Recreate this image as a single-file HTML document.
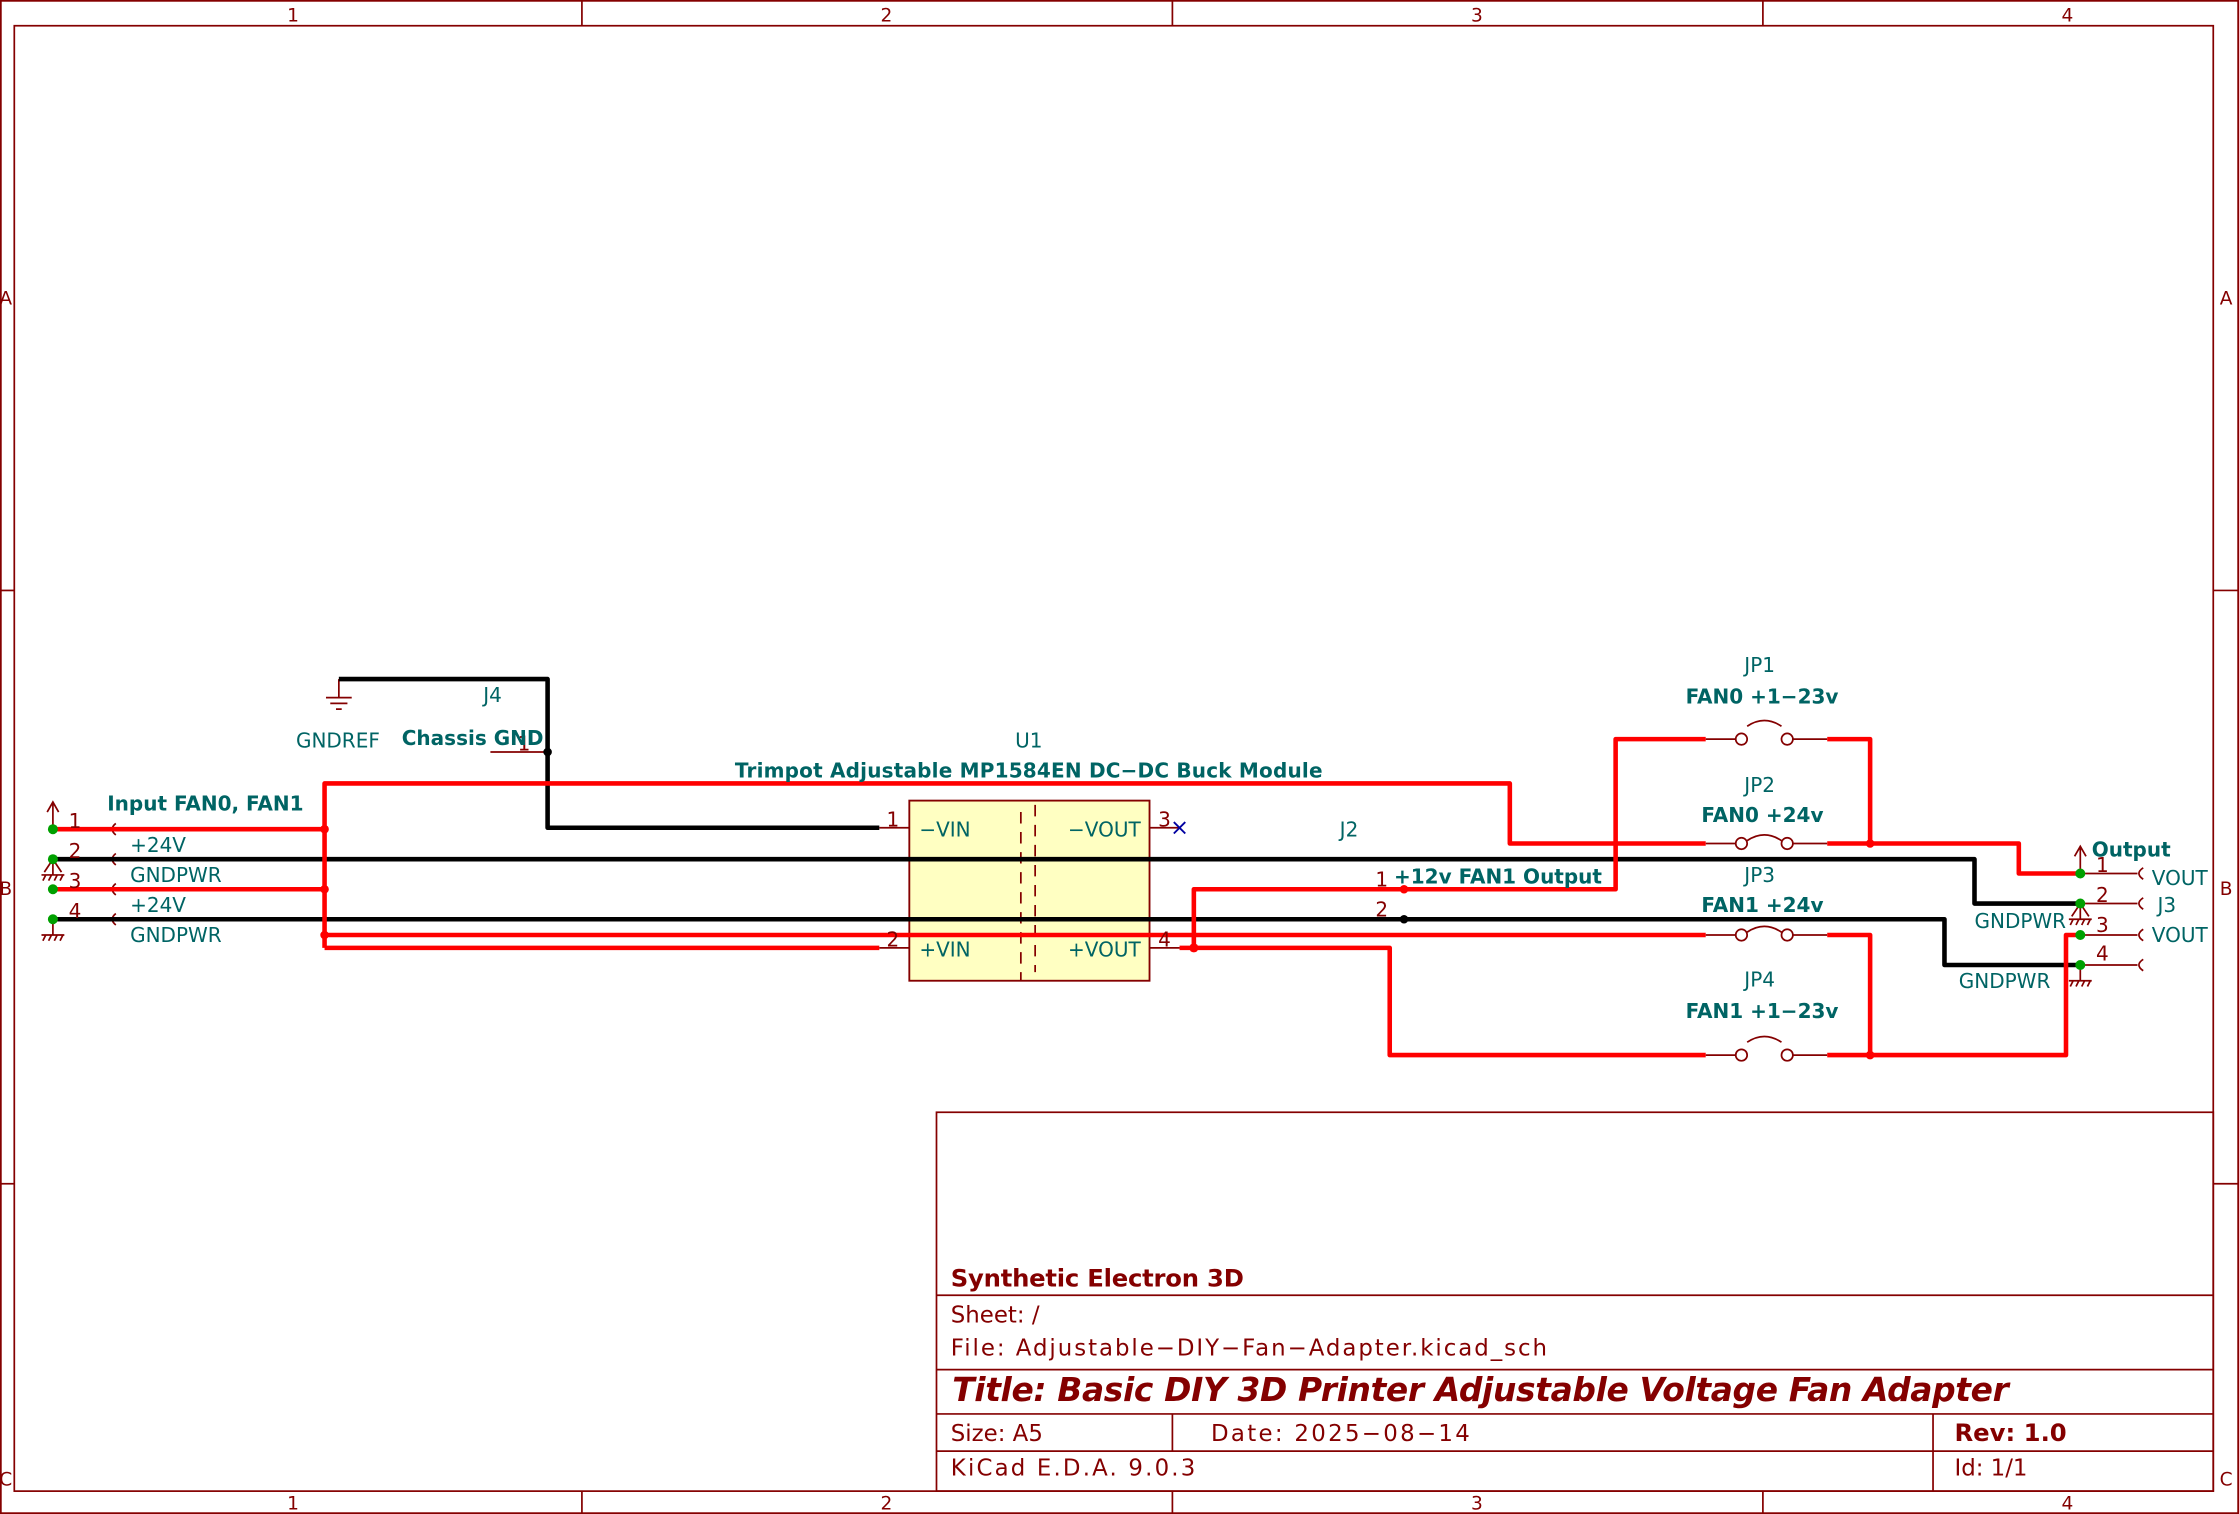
<!DOCTYPE html>
<html><head><meta charset="utf-8"><style>
html,body{margin:0;padding:0;background:#fff;}
svg{display:block;}
text{font-family:"DejaVu Sans","Liberation Sans",sans-serif;}
.f{fill:#840000;}
.t{fill:#006464;}
.b{font-weight:bold;}
</style></head><body>
<svg width="2239" height="1514" viewBox="0 0 1566 1059" preserveAspectRatio="none" xmlns="http://www.w3.org/2000/svg">
<rect width="1566" height="1059" fill="#fff"/>
<g stroke="#840000" stroke-width="1.2" fill="none">
<rect x="0.6" y="0.6" width="1564.8" height="1057.8"/>
<rect x="10" y="18" width="1538" height="1025"/>
<line x1="407" y1="0" x2="407" y2="18"/><line x1="820" y1="0" x2="820" y2="18"/><line x1="1233" y1="0" x2="1233" y2="18"/>
<line x1="407" y1="1043" x2="407" y2="1059"/><line x1="820" y1="1043" x2="820" y2="1059"/><line x1="1233" y1="1043" x2="1233" y2="1059"/>
<line x1="0" y1="413" x2="10" y2="413"/><line x1="0" y1="828" x2="10" y2="828"/>
<line x1="1548" y1="413" x2="1566" y2="413"/><line x1="1548" y1="828" x2="1566" y2="828"/>
<rect x="655" y="778" width="893" height="265"/>
<line x1="655" y1="906" x2="1548" y2="906"/>
<line x1="655" y1="958" x2="1548" y2="958"/>
<line x1="655" y1="989" x2="1548" y2="989"/>
<line x1="655" y1="1015" x2="1548" y2="1015"/>
<line x1="820" y1="989" x2="820" y2="1015"/>
<line x1="1352" y1="989" x2="1352" y2="1043"/>
</g>
<g class="f" font-size="13" text-anchor="middle">
<text x="205" y="15">1</text><text x="620" y="15">2</text><text x="1033" y="15">3</text><text x="1446" y="15">4</text>
<text x="205" y="1056">1</text><text x="620" y="1056">2</text><text x="1033" y="1056">3</text><text x="1446" y="1056">4</text>
<text x="4" y="213">A</text><text x="4" y="626">B</text><text x="4" y="1039">C</text>
<text x="1557" y="213">A</text><text x="1557" y="626">B</text><text x="1557" y="1039">C</text>
</g>
<g class="f" font-size="16">
<text x="665" y="900" class="b" font-size="17" textLength="205">Synthetic Electron 3D</text>
<text x="665" y="925">Sheet: /</text>
<text x="665" y="948" textLength="417">File: Adjustable−DIY−Fan−Adapter.kicad_sch</text>
<text x="666" y="980" class="b" font-style="italic" font-size="23" textLength="739">Title: Basic DIY 3D Printer Adjustable Voltage Fan Adapter</text>
<text x="665" y="1008">Size: A5</text>
<text x="847" y="1008" textLength="181">Date: 2025−08−14</text>
<text x="1367" y="1008" class="b" font-size="17">Rev: 1.0</text>
<text x="665" y="1032" textLength="171">KiCad E.D.A. 9.0.3</text>
<text x="1367" y="1032">Id: 1/1</text>
</g>

<rect x="636" y="560" width="168" height="126" fill="#ffffc2" stroke="#840000" stroke-width="1.3"/>
<g stroke="#840000" stroke-width="1.2" fill="none">
<line x1="714" y1="568" x2="714" y2="686" stroke-dasharray="8,6"/>
<line x1="724" y1="563" x2="724" y2="680" stroke-dasharray="8,6"/>
<line x1="615" y1="579" x2="636" y2="579"/><line x1="615" y1="663" x2="636" y2="663"/>
<line x1="804" y1="579" x2="825" y2="579"/><line x1="804" y1="663" x2="825" y2="663"/>
<line x1="343" y1="526" x2="383" y2="526"/>
<line x1="37" y1="580" x2="75" y2="580"/><line x1="37" y1="601" x2="75" y2="601"/>
<line x1="37" y1="622" x2="75" y2="622"/><line x1="37" y1="643" x2="75" y2="643"/>
<path d="M81 576 Q76 580 81 584 M81 597 Q76 601 81 605 M81 618 Q76 622 81 626 M81 639 Q76 643 81 647"/>
<line x1="1455" y1="611" x2="1495" y2="611"/><line x1="1455" y1="632" x2="1495" y2="632"/>
<line x1="1455" y1="654" x2="1495" y2="654"/><line x1="1455" y1="675" x2="1495" y2="675"/>
<path d="M1499 607 Q1493 611 1499 615 M1499 628 Q1493 632 1499 636 M1499 650 Q1493 654 1499 658 M1499 671 Q1493 675 1499 679"/>
<path d="M37 580 V562 M33 568 L37 561 L41 568"/>
<path d="M1455 611 V593 M1451 599 L1455 592 L1459 599"/>
<path d="M37 601 V612 M29 612 H45 M30 616 L32 612 M34 616 L36 612 M38 616 L40 612 M42 616 L44 612 M37 601 L31 610 M37 601 L43 610"/>
<path d="M37 643 V654 M29 654 H45 M30 658 L32 654 M34 658 L36 654 M38 658 L40 654 M42 658 L44 654"/>
<path d="M1455 632 V643 M1447 643 H1463 M1448 647 L1450 643 M1452 647 L1454 643 M1456 647 L1458 643 M1460 647 L1462 643 M1455 632 L1449 641 M1455 632 L1461 641"/>
<path d="M1455 675 V686 M1447 686 H1463 M1448 690 L1450 686 M1452 690 L1454 686 M1456 690 L1458 686 M1460 690 L1462 686"/>
<path d="M237 475 V488 M228 488 H246 M231 492 H243 M235 496 H239"/>
<g>
<line x1="1193" y1="517" x2="1214" y2="517"/><line x1="1254" y1="517" x2="1278" y2="517"/>
<circle cx="1218" cy="517" r="4"/><circle cx="1250" cy="517" r="4"/><path d="M1222 508 Q1234 500 1246 508"/>
<line x1="1193" y1="590" x2="1214" y2="590"/><line x1="1254" y1="590" x2="1278" y2="590"/>
<circle cx="1218" cy="590" r="4"/><circle cx="1250" cy="590" r="4"/><path d="M1222 588 Q1234 580 1246 588"/>
<line x1="1193" y1="654" x2="1214" y2="654"/><line x1="1254" y1="654" x2="1278" y2="654"/>
<circle cx="1218" cy="654" r="4"/><circle cx="1250" cy="654" r="4"/><path d="M1222 652 Q1234 644 1246 652"/>
<line x1="1193" y1="738" x2="1214" y2="738"/><line x1="1254" y1="738" x2="1278" y2="738"/>
<circle cx="1218" cy="738" r="4"/><circle cx="1250" cy="738" r="4"/><path d="M1222 729 Q1234 721 1246 729"/>
</g>
</g>
<path d="M821 575 L829 583 M829 575 L821 583" stroke="#0000a0" stroke-width="1.3"/>

<g fill="none" stroke-width="3.2" stroke-linejoin="round">
<g stroke="#000">
<path d="M237 475 H383 V579 H615"/>
<path d="M37 601 H1381 V632 H1455"/>
<path d="M37 643 H1360 V675 H1455"/>
</g>
<g stroke="#ff0000">
<path d="M227 663 V548 H1056 V590 H1193"/>
<path d="M227 663 H615"/>
<path d="M37 580 H227"/><path d="M37 622 H227"/>
<path d="M227 654 H1193"/>
<path d="M825 663 H835 V622 H1130 V517 H1193"/>
<path d="M835 663 H972 V738 H1193"/>
<path d="M1278 517 H1308 V590"/>
<path d="M1278 590 H1412 V611 H1455"/>
<path d="M1278 654 H1308 V738"/>
<path d="M1278 738 H1445 V654 H1455"/>
</g>
</g>
<g fill="#ff0000">
<circle cx="227" cy="580" r="3"/><circle cx="227" cy="622" r="3"/><circle cx="227" cy="654" r="3"/>
<circle cx="835" cy="663" r="3.2"/><circle cx="982" cy="622" r="3"/>
<circle cx="1308" cy="590" r="3"/><circle cx="1308" cy="738" r="3"/>
</g>
<g fill="#000"><circle cx="383" cy="526" r="3"/><circle cx="982" cy="643" r="3"/></g>
<g fill="#00a000">
<circle cx="37" cy="580" r="3.5"/><circle cx="37" cy="601" r="3.5"/><circle cx="37" cy="622" r="3.5"/><circle cx="37" cy="643" r="3.5"/>
<circle cx="1455" cy="611" r="3.5"/><circle cx="1455" cy="632" r="3.5"/><circle cx="1455" cy="654" r="3.5"/><circle cx="1455" cy="675" r="3.5"/>
</g>

<g class="f" font-size="14">
<text x="48" y="579">1</text><text x="48" y="600">2</text><text x="48" y="621">3</text><text x="48" y="642">4</text>
<text x="620" y="578">1</text><text x="620" y="662">2</text><text x="810" y="578">3</text><text x="810" y="662">4</text>
<text x="362" y="525">1</text>
<text x="962" y="620">1</text><text x="962" y="641">2</text>
<text x="1466" y="610">1</text><text x="1466" y="631">2</text><text x="1466" y="652">3</text><text x="1466" y="672">4</text>
</g>
<g class="t" font-size="14">
<text x="91" y="596">+24V</text><text x="91" y="617">GNDPWR</text>
<text x="91" y="638">+24V</text><text x="91" y="659">GNDPWR</text>
<text x="207" y="523">GNDREF</text>
<text x="338" y="491">J4</text>
<text x="710" y="523">U1</text>
<text x="937" y="585">J2</text>
<text x="643" y="585">−VIN</text><text x="643" y="669">+VIN</text>
<text x="747" y="585">−VOUT</text><text x="747" y="669">+VOUT</text>
<text x="1220" y="470">JP1</text><text x="1220" y="554">JP2</text><text x="1220" y="617">JP3</text><text x="1220" y="690">JP4</text>
<text x="1381" y="649">GNDPWR</text><text x="1370" y="691">GNDPWR</text>
<text x="1505" y="619">VOUT</text><text x="1509" y="638">J3</text><text x="1505" y="659">VOUT</text>
</g>
<g class="t b" font-size="14">
<text x="281" y="521">Chassis GND</text>
<text x="75" y="567">Input FAN0, FAN1</text>
<text x="514" y="544" textLength="411">Trimpot Adjustable MP1584EN DC−DC Buck Module</text>
<text x="1179" y="492">FAN0 +1−23v</text>
<text x="1190" y="575">FAN0 +24v</text>
<text x="975" y="618">+12v FAN1 Output</text>
<text x="1190" y="638">FAN1 +24v</text>
<text x="1179" y="712">FAN1 +1−23v</text>
<text x="1463" y="599">Output</text>
</g>
</svg>
</body></html>
